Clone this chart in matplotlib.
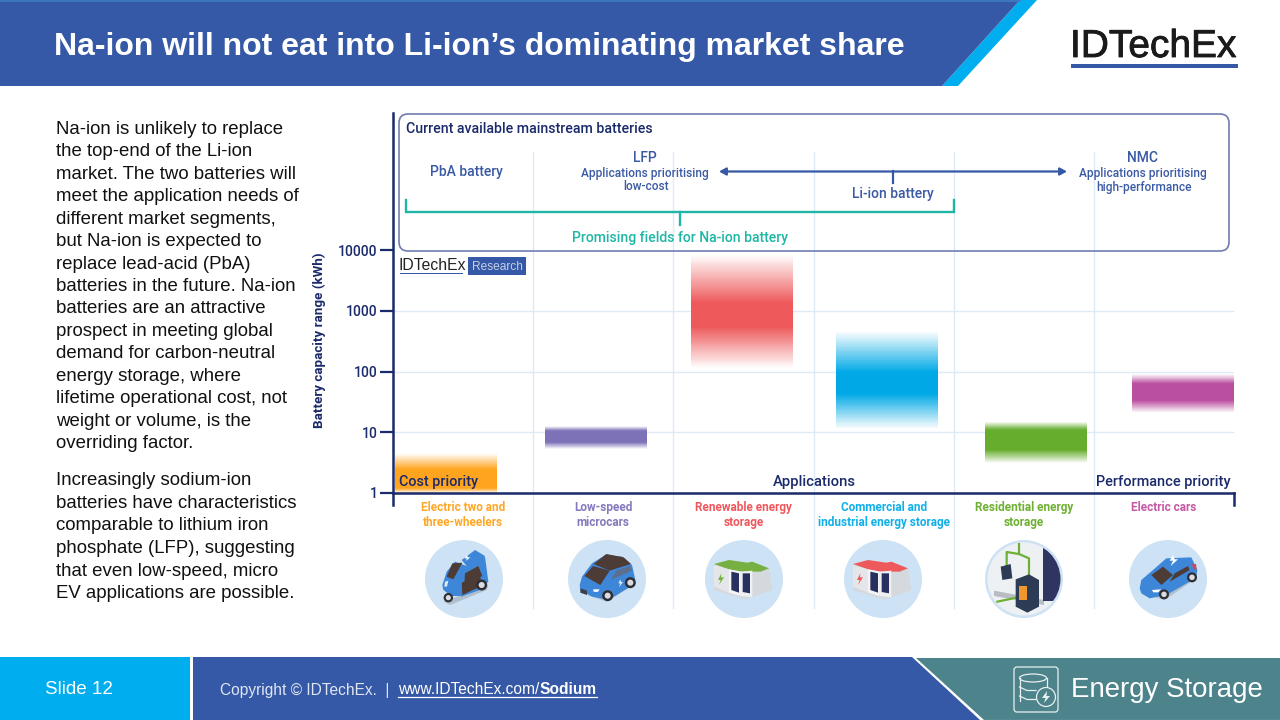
### Na-ion vs Li-ion market share slide
import numpy as np
import matplotlib
matplotlib.use("Agg")
import matplotlib.pyplot as plt
import matplotlib.patheffects as pe
from matplotlib.colors import to_rgb
from matplotlib.patches import Polygon, Circle, Ellipse, Rectangle, FancyBboxPatch

# chart data
categories = ["Electric two and\nthree-wheelers", "Low-speed\nmicrocars", "Renewable energy\nstorage",
              "Commercial and\nindustrial energy storage", "Residential energy\nstorage", "Electric cars"]
capacity_low = [1, 5.3, 114, 11.3, 3.1, 21]
capacity_high = [4.5, 12.6, 8300, 464, 15, 91]
y_ticks = [1, 10, 100, 1000, 10000]

# slide text
title = "Na-ion will not eat into Li-ion\u2019s dominating market share"
para1 = ["Na-ion is unlikely to replace", "the top-end of the Li-ion", "market. The two batteries will",
         "meet the application needs of", "different market segments,", "but Na-ion is expected to",
         "replace lead-acid (PbA)", "batteries in the future. Na-ion", "batteries are an attractive",
         "prospect in meeting global", "demand for carbon-neutral", "energy storage, where",
         "lifetime operational cost, not", "weight or volume, is the", "overriding factor."]
para2 = ["Increasingly sodium-ion", "batteries have characteristics", "comparable to lithium iron",
         "phosphate (LFP), suggesting", "that even low-speed, micro", "EV applications are possible."]

# styles
bar_colors = ["#ffa41f", "#7d71b8", "#ee5a5c", "#00a9e6", "#66ad2d", "#bb4f9f"]
label_colors = ["#ffa726", "#8479bd", "#f0575d", "#0fb0ea", "#6eb033", "#c658a5"]
bar_middle_px = [446, 596, 742, 887, 1036, 1183]
bar_fades = [(0.4, 0.12), (0.2, 0.3), (0.42, 0.36), (0.42, 0.36), (0.2, 0.32), (0.25, 0.32)]
bar_width = 102 / 140.17
NAVY = "#1b2a6b"
BLUE = "#3559a6"
CYAN = "#00aeef"
TEAL = "#1fb6a6"
TEXT_BLUE = "#3a5aa5"
GRID = "#dfeaf7"
SANS = "Liberation Sans"
CHART = "Roboto"

fig = plt.figure(figsize=(12.8, 7.2), dpi=100, facecolor="white")

# data axes, left spine runs up to y=113 px
px_per_decade = 60.75
ax = fig.add_axes([393 / 1280, (720 - 493) / 720, 841 / 1280, (493 - 113) / 720])
ax.set_yscale("log")
ax.set_xlim(0, 6)
ax.set_ylim(1, 10 ** ((493 - 113) / px_per_decade))
ax.set_yticks(y_ticks, [str(t) for t in y_ticks])
ax.yaxis.set_minor_locator(matplotlib.ticker.NullLocator())
ax.tick_params(axis="y", length=9.4, width=1.6, color=NAVY, labelcolor=NAVY, labelsize=10, pad=1.6)
for lab in ax.get_yticklabels():
    lab.set_family(CHART)
    lab.set_weight("medium")
ax.set_xticks(np.arange(6) + 0.5, categories)
ax.tick_params(axis="x", length=0, pad=5.5)
for lab, c in zip(ax.get_xticklabels(), label_colors):
    lab.set_color(c)
    lab.set_family(CHART)
    lab.set_weight("bold")
    lab.set_fontsize(8.5)
    lab.set_linespacing(1.2)
for s in ["top", "right"]:
    ax.spines[s].set_visible(False)
for s in ["left", "bottom"]:
    ax.spines[s].set_color(NAVY)
    ax.spines[s].set_linewidth(1.8)
for t in y_ticks[1:4]:
    ax.axhline(t, color=GRID, lw=1, zorder=0)
ax.set_ylabel("Battery capacity range (kWh)", family=CHART, weight="bold", fontsize=9.6, color=NAVY)
ax.yaxis.set_label_coords((326 - 393) / 841, (493 - 340) / 380)

# vertical separators run past the axes
for k in range(1, 6):
    ax.plot([k, k], [(493 - 152) / 380, (493 - 608) / 380], color=GRID, lw=1, zorder=1,
            transform=ax.get_xaxis_transform(), clip_on=False)

# gradient bars, fading out at both ends
for i in range(6):
    ys = np.geomspace(capacity_low[i], capacity_high[i], 121)
    pos = (np.arange(120) + 0.5) / 120
    top_fade, bottom_fade = bar_fades[i]
    alpha = np.clip((1 - pos) / top_fade, 0, 1) * np.clip(pos / bottom_fade, 0, 1)
    rgba = np.ones((120, 1, 4))
    rgba[:, 0, :3] = to_rgb(bar_colors[i])
    rgba[:, 0, 3] = alpha
    x0 = (bar_middle_px[i] - 393) / 140.17 - bar_width / 2
    ax.pcolormesh([x0, x0 + bar_width], ys, rgba, zorder=2, shading="flat", rasterized=True)

# overlay in slide pixels for everything that is not data
ov = fig.add_axes([0, 0, 1, 1], facecolor="none")
ov.set_xlim(0, 1280)
ov.set_ylim(720, 0)
ov.axis("off")


def poly(points, color, z=3, **kw):
    p = Polygon(points, closed=True, facecolor=color, edgecolor="none", zorder=z, **kw)
    ov.add_patch(p)
    return p


# header
poly([(1020, 0), (1037, 0), (958, 86), (942, 86)], CYAN)
poly([(0, 0), (1020, 0), (942, 86), (0, 86)], BLUE)
ov.plot([0, 1020], [0.5, 0.5], color="#3f7cc0", lw=1.2, zorder=4)
ov.text(54, 47.5, title, color="white", family=SANS, weight="bold", fontsize=23, va="center", ha="left", zorder=5)
logo = ov.text(1070, 47, "IDTechEx", color="#1a1a1a", family=SANS, fontsize=28, va="center", ha="left", zorder=5)
logo.set_path_effects([pe.withStroke(linewidth=0.6, foreground="#1a1a1a")])
ov.add_patch(Rectangle((1071, 64), 167, 4, facecolor=BLUE, edgecolor="none"))

# body text
for i, line in enumerate(para1):
    ov.text(56, 129.5 + i * 22.43, line, family=SANS, fontsize=13.45, color="#111111", va="center", ha="left")
for i, line in enumerate(para2):
    ov.text(56, 480.5 + i * 22.7, line, family=SANS, fontsize=13.45, color="#111111", va="center", ha="left")

# top panel
ov.add_patch(FancyBboxPatch((399, 114), 830, 137, boxstyle="round,pad=0,rounding_size=9",
                            facecolor="none", edgecolor="#6f7db0", lw=1.2, zorder=3))
ov.text(406, 129, "Current available mainstream batteries", family=CHART, weight="medium", fontsize=10.2,
        color=NAVY, va="center", ha="left")
panel_big = dict(family=CHART, weight="medium", fontsize=10, color=TEXT_BLUE, va="center", ha="center")
panel_small = dict(family=CHART, weight="medium", fontsize=8.6, color=TEXT_BLUE, va="center", ha="center")
ov.text(466, 172, "PbA battery", **panel_big)
ov.text(645, 158, "LFP", **panel_big)
ov.text(645, 173, "Applications prioritising", **panel_small)
ov.text(646, 187, "low-cost", **panel_small)
ov.text(893, 194, "Li-ion battery", **panel_big)
ov.text(1142, 158, "NMC", **panel_big)
ov.text(1143, 173, "Applications prioritising", **panel_small)
ov.text(1144, 187, "high-performance", **panel_small)
ov.annotate("", xy=(719, 171.5), xytext=(1067, 171.5),
            arrowprops=dict(arrowstyle="<|-|>,head_width=0.22,head_length=0.4", color=BLUE, lw=1.6,
                            shrinkA=0, shrinkB=0), zorder=4)
ov.plot([893, 893], [171, 183], color=BLUE, lw=1.6, zorder=4)
ov.plot([405.5, 405.5, 954, 954], [200, 212, 212, 200], color=TEAL, lw=1.7, solid_joinstyle="miter", zorder=4)
ov.plot([680, 680], [212, 225], color=TEAL, lw=1.7, zorder=4)
ov.text(680, 238, "Promising fields for Na-ion battery", family=CHART, weight="medium", fontsize=10.1,
        color=TEAL, va="center", ha="center")

# small logo
ov.text(399, 265, "IDTechEx", family=SANS, fontsize=11.3, color="#222222", va="center", ha="left")
ov.add_patch(Rectangle((400, 273), 63, 1.2, facecolor=BLUE, edgecolor="none"))
ov.add_patch(Rectangle((468, 257), 58, 18, facecolor=BLUE, edgecolor="none"))
ov.text(497, 266.5, "Research", family=SANS, fontsize=8.6, color="#c5d0e6", va="center", ha="center")

# axis end tick and captions
ov.plot([393, 393], [493, 505], color=NAVY, lw=1.8, zorder=4)
ov.plot([1234, 1234], [493, 505], color=NAVY, lw=1.8, zorder=4)
ov.text(399, 482, "Cost priority", family=CHART, weight="medium", fontsize=10.4, color=NAVY, va="center", ha="left")
ov.text(814, 482, "Applications", family=CHART, weight="medium", fontsize=10.6, color=NAVY, va="center", ha="center")
ov.text(1231, 482, "Performance priority", family=CHART, weight="medium", fontsize=10.45, color=NAVY,
        va="center", ha="right")

# icons, outlines given in units of a 3x crop starting at (ox, 540)
DISC = "#cde2f4"
CAR = "#3e87d8"
BROWN = "#4d3b36"
SHADOW = "#aebfd0"
ICON_TOP = 540


def shape(ox, pts, color, z=5):
    return poly([(ox + x / 3, ICON_TOP + y / 3) for x, y in pts], color, z)


def wheel(ox, x, y, r):
    c = (ox + x / 3, ICON_TOP + y / 3)
    ov.add_patch(Circle(c, r, facecolor="#2f2f33", edgecolor="none", zorder=7))
    ov.add_patch(Circle(c, r * 0.55, facecolor="#d9dde2", edgecolor="none", zorder=8))


def trike(ox):
    shape(ox, [(55, 185), (190, 135), (185, 150), (75, 195)], SHADOW, 4)
    shape(ox, [(108, 120), (125, 75), (180, 50), (190, 125), (165, 150), (108, 170)], CAR)
    shape(ox, [(120, 100), (160, 78), (172, 108), (118, 130)], BROWN, 6)
    shape(ox, [(110, 128), (165, 105), (170, 138), (112, 165)], BROWN, 6)
    shape(ox, [(52, 135), (65, 95), (90, 65), (125, 78), (110, 120), (108, 168), (80, 168), (55, 150)], CAR, 6)
    shape(ox, [(65, 110), (82, 70), (112, 68), (85, 118)], BROWN, 7)
    shape(ox, [(110, 60), (150, 30), (180, 48), (170, 60), (125, 78)], CAR, 7)
    shape(ox, [(127, 45), (118, 55), (126, 55), (122, 63), (136, 52), (128, 52)], "white", 8)
    shape(ox, [(60, 125), (70, 122), (66, 140), (58, 140)], "#dfeaf5", 7)
    wheel(ox, 170, 135, 5.5)
    wheel(ox, 70, 173, 4.7)


def microcar(ox):
    shape(ox, [(60, 165), (200, 115), (205, 130), (120, 185)], SHADOW, 4)
    shape(ox, [(38, 135), (45, 110), (75, 70), (115, 45), (165, 50), (195, 75), (205, 120), (190, 140),
               (125, 180), (75, 170), (40, 150)], CAR)
    shape(ox, [(80, 72), (118, 42), (170, 52), (192, 72), (150, 85), (128, 92)], BROWN, 6)
    shape(ox, [(52, 108), (78, 78), (128, 92), (100, 135)], BROWN, 6)
    shape(ox, [(130, 120), (150, 90), (190, 78), (195, 92)], "#5c6f8f", 6)
    shape(ox, [(40, 145), (60, 152), (60, 165), (40, 158)], "#3a3f4a", 6)
    shape(ox, [(78, 148), (98, 148), (92, 156), (80, 155)], "white", 6)
    shape(ox, [(160, 118), (154, 130), (160, 130), (156, 142), (168, 126), (162, 126)], "#dfeaf5", 6)
    wheel(ox, 122, 167, 5.5)
    wheel(ox, 190, 128, 5.5)


def cabinets(ox, top):
    shape(ox, [(30, 75), (195, 85), (205, 150), (125, 178), (30, 150)], "#d5d8dc", 4)
    shape(ox, [(30, 72), (75, 60), (130, 68), (145, 65), (195, 85), (170, 95), (115, 95), (75, 88)], top)
    shape(ox, [(30, 75), (75, 88), (75, 158), (30, 140)], "#e4e6e9")
    shape(ox, [(75, 88), (110, 95), (110, 168), (75, 158)], "#f4f5f6")
    shape(ox, [(82, 95), (105, 100), (105, 158), (82, 150)], "#28305f", 6)
    shape(ox, [(110, 95), (145, 92), (145, 172), (110, 168)], "#eef0f2")
    shape(ox, [(116, 100), (138, 100), (138, 160), (116, 156)], "#28305f", 6)
    shape(ox, [(52, 100), (42, 120), (50, 120), (45, 135), (60, 112), (51, 112)], top, 6)


def residential(ox):
    c = Circle((ox + 40, ICON_TOP + 39), 36.5, facecolor="#eef1f4", edgecolor="none", zorder=4)
    ov.add_patch(c)
    shape(ox, [(30, 152), (180, 180), (180, 195), (30, 168)], "#b8bcc4", 5).set_clip_path(c)
    shape(ox, [(178, 25), (250, 25), (250, 182), (178, 182)], "#2e3561", 5).set_clip_path(c)
    for xs, ys in [([105, 105, 68, 68], [12, 42, 36, 75]), ([105, 135, 135, 40], [42, 55, 165, 185])]:
        line = ov.plot([ox + x / 3 for x in xs], [ICON_TOP + y / 3 for y in ys], color="#6eb033", lw=1.6, zorder=5)[0]
        line.set_clip_path(c)
    shape(ox, [(50, 80), (80, 72), (85, 115), (55, 120)], "#2e3b55", 6)
    shape(ox, [(95, 118), (135, 103), (165, 120), (165, 200), (130, 218), (95, 200)], "#2e3b55", 6)
    shape(ox, [(105, 138), (130, 138), (130, 180), (105, 180)], "#f0982e", 7)


def sportscar(ox):
    shape(ox, [(40, 160), (200, 100), (205, 115), (110, 180)], SHADOW, 4)
    shape(ox, [(35, 145), (40, 120), (75, 90), (115, 55), (190, 52), (208, 90), (205, 110), (190, 122),
               (115, 165), (65, 175), (40, 160)], CAR)
    shape(ox, [(70, 105), (105, 80), (135, 105), (100, 135)], BROWN, 6)
    shape(ox, [(125, 125), (140, 100), (180, 78), (185, 90)], BROWN, 6)
    shape(ox, [(135, 45), (125, 62), (135, 62), (128, 78), (150, 58), (140, 58)], "white", 6)
    shape(ox, [(72, 150), (100, 148), (90, 157), (76, 157)], "white", 6)
    shape(ox, [(192, 72), (204, 72), (206, 88), (196, 88)], "#c94a5a", 6)
    wheel(ox, 108, 163, 5)
    wheel(ox, 192, 112, 5)


icon_centers = [464, 607, 744, 883, 1024, 1168]
for x in icon_centers:
    ov.add_patch(Circle((x, 579), 39, facecolor=DISC, edgecolor="none", zorder=3))
trike(icon_centers[0] - 39)
microcar(icon_centers[1] - 40)
cabinets(icon_centers[2] - 40, "#76b043")
cabinets(icon_centers[3] - 40, "#ee5a5c")
residential(icon_centers[4] - 40)
sportscar(icon_centers[5] - 40)

# footer
poly([(0, 657), (190, 657), (190, 720), (0, 720)], CYAN)
poly([(193, 657), (912, 657), (980, 720), (193, 720)], BLUE)
poly([(916, 658), (1280, 658), (1280, 720), (984, 720)], "#4d838b")
ov.plot([984, 1280], [719.5, 719.5], color="#7fa5ab", lw=1, zorder=4)
ov.text(45, 689.5, "Slide 12", family=SANS, fontsize=13.6, color="white", va="center", ha="left", zorder=5)
ov.text(220, 690, "Copyright \u00a9 IDTechEx.  |", family=SANS, fontsize=11.2, color="#dfe6f3", va="center",
        ha="left", zorder=5)
ov.text(398, 690, "www.IDTechEx.com/", family=SANS, fontsize=11.2, color="white", va="center", ha="left", zorder=5)
ov.text(539, 690, "Sodium", family=SANS, weight="bold", fontsize=11.2, color="white", va="center", ha="left", zorder=5)
ov.plot([398, 597], [697, 697], color="white", lw=0.9, zorder=5)
ov.text(1071, 690, "Energy Storage", family=SANS, fontsize=19.9, color="white", va="center", ha="left", zorder=5)

# energy icon
ov.add_patch(FancyBboxPatch((1014, 667), 44, 45, boxstyle="round,pad=0,rounding_size=3",
                            facecolor="none", edgecolor="#e8f0f1", lw=0.9, zorder=5))
ov.add_patch(Ellipse((1033, 678), 27, 8, facecolor="none", edgecolor="#e8f0f1", lw=0.9, zorder=5))
ov.plot([1019.5, 1019.5], [678, 701], color="#e8f0f1", lw=0.9, zorder=5)
ov.plot([1046.5, 1046.5], [678, 687], color="#e8f0f1", lw=0.9, zorder=5)
for y in [687, 696]:
    ov.plot([1019.5, 1027, 1036], [y, y + 3.5, y + 3.5], color="#e8f0f1", lw=0.9, zorder=5)
ov.add_patch(Circle((1046, 697), 9.5, facecolor="#4d838b", edgecolor="#e8f0f1", lw=0.9, zorder=6))
poly([(1047, 691), (1042, 698), (1045.5, 698), (1044, 703), (1050, 696), (1046.5, 696)], "#e8f0f1", 7)

fig.savefig("out.png", dpi=100)
